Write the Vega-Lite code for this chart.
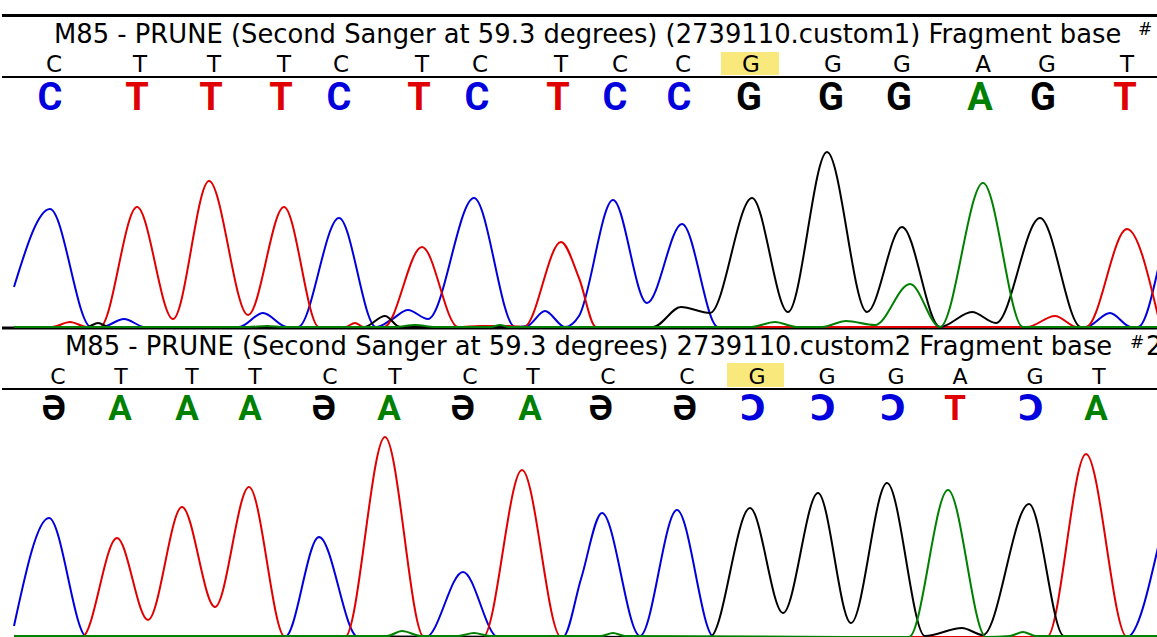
{
  "$schema": "https://vega.github.io/schema/vega-lite/v6.json",
  "padding": 0,
  "spacing": 0,
  "bounds": "flush",
  "background": "white",
  "config": {"view": {"stroke": null}},
  "datasets": {
    "topRef": [{"x":52,"b":"C"},{"x":138,"b":"T"},{"x":212,"b":"T"},{"x":282,"b":"T"},{"x":339,"b":"C"},{"x":420,"b":"T"},{"x":478,"b":"C"},{"x":559,"b":"T"},{"x":618,"b":"C"},{"x":681,"b":"C"},{"x":749,"b":"G"},{"x":831,"b":"G"},{"x":900,"b":"G"},{"x":981,"b":"A"},{"x":1045,"b":"G"},{"x":1125,"b":"T"}],
    "topCall": [{"x":48,"b":"C","d":"C"},{"x":135,"b":"T","d":"T"},{"x":209,"b":"T","d":"T"},{"x":279,"b":"T","d":"T"},{"x":337,"b":"C","d":"C"},{"x":417,"b":"T","d":"T"},{"x":475,"b":"C","d":"C"},{"x":556,"b":"T","d":"T"},{"x":613,"b":"C","d":"C"},{"x":677,"b":"C","d":"C"},{"x":747,"b":"G","d":"G"},{"x":829,"b":"G","d":"G"},{"x":897,"b":"G","d":"G"},{"x":978,"b":"A","d":"A"},{"x":1041,"b":"G","d":"G"},{"x":1123,"b":"T","d":"T"}],
    "botRef": [{"x":56,"b":"C"},{"x":119,"b":"T"},{"x":190,"b":"T"},{"x":253,"b":"T"},{"x":328,"b":"C"},{"x":393,"b":"T"},{"x":468,"b":"C"},{"x":531,"b":"T"},{"x":606,"b":"C"},{"x":685,"b":"C"},{"x":755,"b":"G"},{"x":825,"b":"G"},{"x":894,"b":"G"},{"x":958,"b":"A"},{"x":1033,"b":"G"},{"x":1097,"b":"T"}],
    "botCall": [{"x":52,"b":"Ә","d":"G"},{"x":118,"b":"A","d":"A"},{"x":185,"b":"A","d":"A"},{"x":248,"b":"A","d":"A"},{"x":322,"b":"Ә","d":"G"},{"x":387,"b":"A","d":"A"},{"x":461,"b":"Ә","d":"G"},{"x":528,"b":"A","d":"A"},{"x":599,"b":"Ә","d":"G"},{"x":683,"b":"Ә","d":"G"},{"x":751,"b":"Ↄ","d":"C"},{"x":821,"b":"Ↄ","d":"C"},{"x":891,"b":"Ↄ","d":"C"},{"x":953,"b":"T","d":"T"},{"x":1029,"b":"Ↄ","d":"C"},{"x":1094,"b":"A","d":"A"}],
    "topTrace": [
      {"d":"C","x":12,"i":41},{"d":"C","x":48,"i":119},{"d":"C","x":89,"i":1},{"d":"C","x":100,"i":1},{"d":"C","x":122,"i":9},{"d":"C","x":143,"i":1},{"d":"C","x":237,"i":1},{"d":"C","x":261,"i":15},{"d":"C","x":285,"i":1},{"d":"C","x":296,"i":1},{"d":"C","x":337,"i":110},{"d":"C","x":374,"i":1},{"d":"C","x":389,"i":8},{"d":"C","x":406,"i":18},{"d":"C","x":426,"i":9},{"d":"C","x":472,"i":130},{"d":"C","x":513,"i":1},{"d":"C","x":525,"i":2},{"d":"C","x":543,"i":17},{"d":"C","x":563,"i":1},{"d":"C","x":577,"i":12},{"d":"C","x":611,"i":128},{"d":"C","x":645,"i":25},{"d":"C","x":680,"i":104},{"d":"C","x":716,"i":1},{"d":"C","x":1084,"i":1},{"d":"C","x":1108,"i":15},{"d":"C","x":1129,"i":1},{"d":"C","x":1136,"i":1},{"d":"C","x":1157,"i":63},
      {"d":"T","x":12,"i":1},{"d":"T","x":50,"i":1},{"d":"T","x":68,"i":6},{"d":"T","x":85,"i":1},{"d":"T","x":98,"i":1},{"d":"T","x":135,"i":121},{"d":"T","x":171,"i":9},{"d":"T","x":207,"i":147},{"d":"T","x":246,"i":13},{"d":"T","x":282,"i":121},{"d":"T","x":317,"i":1},{"d":"T","x":343,"i":1},{"d":"T","x":353,"i":5},{"d":"T","x":362,"i":1},{"d":"T","x":382,"i":1},{"d":"T","x":420,"i":81},{"d":"T","x":456,"i":1},{"d":"T","x":478,"i":2},{"d":"T","x":507,"i":2},{"d":"T","x":522,"i":1},{"d":"T","x":559,"i":86},{"d":"T","x":577,"i":50},{"d":"T","x":594,"i":1},{"d":"T","x":1025,"i":1},{"d":"T","x":1053,"i":12},{"d":"T","x":1075,"i":1},{"d":"T","x":1084,"i":1},{"d":"T","x":1125,"i":99},{"d":"T","x":1157,"i":8},
      {"d":"G","x":12,"i":1},{"d":"G","x":85,"i":1},{"d":"G","x":96,"i":5},{"d":"G","x":107,"i":1},{"d":"G","x":362,"i":1},{"d":"G","x":383,"i":12},{"d":"G","x":398,"i":1},{"d":"G","x":651,"i":1},{"d":"G","x":679,"i":21},{"d":"G","x":708,"i":15},{"d":"G","x":750,"i":130},{"d":"G","x":786,"i":16},{"d":"G","x":825,"i":176},{"d":"G","x":865,"i":16},{"d":"G","x":900,"i":101},{"d":"G","x":938,"i":1},{"d":"G","x":970,"i":16},{"d":"G","x":994,"i":5},{"d":"G","x":1038,"i":110},{"d":"G","x":1079,"i":1},{"d":"G","x":1157,"i":1},
      {"d":"A","x":12,"i":1},{"d":"A","x":246,"i":1},{"d":"A","x":265,"i":2},{"d":"A","x":283,"i":1},{"d":"A","x":393,"i":1},{"d":"A","x":413,"i":3},{"d":"A","x":433,"i":1},{"d":"A","x":489,"i":1},{"d":"A","x":498,"i":3},{"d":"A","x":507,"i":1},{"d":"A","x":749,"i":1},{"d":"A","x":773,"i":6},{"d":"A","x":795,"i":1},{"d":"A","x":820,"i":1},{"d":"A","x":844,"i":7},{"d":"A","x":873,"i":3},{"d":"A","x":908,"i":44},{"d":"A","x":938,"i":1},{"d":"A","x":981,"i":145},{"d":"A","x":1021,"i":1},{"d":"A","x":1157,"i":1}
    ],
    "botTrace": [
      {"d":"C","x":12,"i":11},{"d":"C","x":47,"i":119},{"d":"C","x":85,"i":0},{"d":"C","x":283,"i":0},{"d":"C","x":317,"i":100},{"d":"C","x":356,"i":0},{"d":"C","x":424,"i":0},{"d":"C","x":461,"i":65},{"d":"C","x":496,"i":0},{"d":"C","x":561,"i":0},{"d":"C","x":579,"i":58},{"d":"C","x":600,"i":124},{"d":"C","x":638,"i":1},{"d":"C","x":675,"i":127},{"d":"C","x":712,"i":0},{"d":"C","x":1125,"i":0},{"d":"C","x":1157,"i":94},
      {"d":"T","x":12,"i":0},{"d":"T","x":80,"i":0},{"d":"T","x":115,"i":99},{"d":"T","x":146,"i":17},{"d":"T","x":180,"i":130},{"d":"T","x":213,"i":30},{"d":"T","x":247,"i":150},{"d":"T","x":283,"i":0},{"d":"T","x":343,"i":0},{"d":"T","x":383,"i":200},{"d":"T","x":422,"i":0},{"d":"T","x":481,"i":0},{"d":"T","x":520,"i":167},{"d":"T","x":559,"i":0},{"d":"T","x":1045,"i":0},{"d":"T","x":1084,"i":183},{"d":"T","x":1125,"i":0},{"d":"T","x":1157,"i":0},
      {"d":"G","x":12,"i":1},{"d":"G","x":708,"i":0},{"d":"G","x":748,"i":129},{"d":"G","x":781,"i":24},{"d":"G","x":816,"i":144},{"d":"G","x":849,"i":14},{"d":"G","x":885,"i":154},{"d":"G","x":923,"i":1},{"d":"G","x":960,"i":9},{"d":"G","x":981,"i":2},{"d":"G","x":1027,"i":133},{"d":"G","x":1062,"i":1},{"d":"G","x":1157,"i":1},
      {"d":"A","x":12,"i":1},{"d":"A","x":385,"i":1},{"d":"A","x":400,"i":6},{"d":"A","x":419,"i":1},{"d":"A","x":456,"i":1},{"d":"A","x":472,"i":4},{"d":"A","x":488,"i":1},{"d":"A","x":599,"i":1},{"d":"A","x":611,"i":4},{"d":"A","x":623,"i":1},{"d":"A","x":907,"i":0},{"d":"A","x":946,"i":147},{"d":"A","x":984,"i":0},{"d":"A","x":1008,"i":1},{"d":"A","x":1021,"i":5},{"d":"A","x":1034,"i":1},{"d":"A","x":1157,"i":1}
    ]
  },
  "vconcat": [
    {
      "width": 1157,
      "height": 328,
      "layer": [
        {"data": {"values": [{"x": 719, "x2": 777}]}, "mark": {"type": "rect", "color": "#f9e97c"},
         "encoding": {"x": {"field": "x", "type": "quantitative", "scale": {"domain": [0, 1157], "nice": false, "zero": false}, "axis": null}, "x2": {"field": "x2"},
                      "y": {"datum": 276, "type": "quantitative", "scale": {"domain": [0, 328], "nice": false, "zero": false}, "axis": null}, "y2": {"datum": 253}}},
        {"data": {"values": [{}]}, "mark": {"type": "rule", "strokeWidth": 3, "color": "black"}, "encoding": {"y": {"datum": 312.5, "type": "quantitative"}}},
        {"data": {"values": [{}]}, "mark": {"type": "rule", "strokeWidth": 2, "color": "black"}, "encoding": {"y": {"datum": 251, "type": "quantitative"}}},
        {"data": {"values": [{}]}, "mark": {"type": "rule", "strokeWidth": 3, "color": "black"}, "encoding": {"y": {"datum": 0, "type": "quantitative"}}},
        {"data": {"values": [{"x": 52, "t": "M85 - PRUNE (Second Sanger at 59.3 degrees) (2739110.custom1) Fragment base"}]},
         "mark": {"type": "text", "align": "left", "baseline": "alphabetic", "font": "DejaVu Sans", "fontSize": 25.8, "color": "black"},
         "encoding": {"x": {"field": "x", "type": "quantitative"}, "y": {"datum": 285, "type": "quantitative"}, "text": {"field": "t"}}},
        {"data": {"values": [{"x": 1143, "t": "#"}]},
         "mark": {"type": "text", "align": "center", "baseline": "alphabetic", "font": "DejaVu Sans", "fontSize": 17, "color": "black"},
         "encoding": {"x": {"field": "x", "type": "quantitative"}, "y": {"datum": 293, "type": "quantitative"}, "text": {"field": "t"}}},
        {"data": {"name": "topRef"},
         "mark": {"type": "text", "align": "center", "baseline": "alphabetic", "font": "DejaVu Sans", "fontSize": 23, "color": "black"},
         "encoding": {"x": {"field": "x", "type": "quantitative"}, "y": {"datum": 256, "type": "quantitative"}, "text": {"field": "b"}}},
        {"data": {"name": "topCall"},
         "mark": {"type": "text", "align": "center", "baseline": "alphabetic", "font": "Roboto, DejaVu Sans", "fontWeight": "bold", "fontSize": 38},
         "encoding": {"x": {"field": "x", "type": "quantitative"}, "y": {"datum": 218, "type": "quantitative"}, "text": {"field": "b"},
                      "color": {"field": "d", "type": "nominal", "scale": {"domain": ["A", "C", "G", "T"], "range": ["#008000", "#0000dd", "#000000", "#e00000"]}, "legend": null}}},
        {"data": {"name": "topTrace"},
         "mark": {"type": "line", "interpolate": "monotone", "strokeWidth": 2},
         "encoding": {"x": {"field": "x", "type": "quantitative"}, "y": {"field": "i", "type": "quantitative"},
                      "color": {"field": "d", "type": "nominal", "scale": {"domain": ["A", "C", "G", "T"], "range": ["#008000", "#0000dd", "#000000", "#e00000"]}, "legend": null}}}
      ]
    },
    {
      "width": 1157,
      "height": 309,
      "layer": [
        {"data": {"values": [{"x": 725, "x2": 782}]}, "mark": {"type": "rect", "color": "#f9e97c"},
         "encoding": {"x": {"field": "x", "type": "quantitative", "scale": {"domain": [0, 1157], "nice": false, "zero": false}, "axis": null}, "x2": {"field": "x2"},
                      "y": {"datum": 274, "type": "quantitative", "scale": {"domain": [0, 309], "nice": false, "zero": false}, "axis": null}, "y2": {"datum": 250}}},
        {"data": {"values": [{}]}, "mark": {"type": "rule", "strokeWidth": 2, "color": "black"}, "encoding": {"y": {"datum": 248, "type": "quantitative"}}},
        {"data": {"values": [{"x": 63, "t": "M85 - PRUNE (Second Sanger at 59.3 degrees) 2739110.custom2 Fragment base"}]},
         "mark": {"type": "text", "align": "left", "baseline": "alphabetic", "font": "DejaVu Sans", "fontSize": 25.8, "color": "black"},
         "encoding": {"x": {"field": "x", "type": "quantitative"}, "y": {"datum": 282, "type": "quantitative"}, "text": {"field": "t"}}},
        {"data": {"values": [{"x": 1135, "t": "#"}]},
         "mark": {"type": "text", "align": "center", "baseline": "alphabetic", "font": "DejaVu Sans", "fontSize": 17, "color": "black"},
         "encoding": {"x": {"field": "x", "type": "quantitative"}, "y": {"datum": 289, "type": "quantitative"}, "text": {"field": "t"}}},
        {"data": {"values": [{"x": 1144, "t": "2"}]},
         "mark": {"type": "text", "align": "left", "baseline": "alphabetic", "font": "DejaVu Sans", "fontSize": 25.8, "color": "black"},
         "encoding": {"x": {"field": "x", "type": "quantitative"}, "y": {"datum": 282, "type": "quantitative"}, "text": {"field": "t"}}},
        {"data": {"name": "botRef"},
         "mark": {"type": "text", "align": "center", "baseline": "alphabetic", "font": "DejaVu Sans", "fontSize": 22, "color": "black"},
         "encoding": {"x": {"field": "x", "type": "quantitative"}, "y": {"datum": 253, "type": "quantitative"}, "text": {"field": "b"}}},
        {"data": {"name": "botCall"},
         "mark": {"type": "text", "align": "center", "baseline": "alphabetic", "font": "Roboto, DejaVu Sans", "fontWeight": "bold", "fontSize": 35},
         "encoding": {"x": {"field": "x", "type": "quantitative"}, "y": {"datum": 217, "type": "quantitative"}, "text": {"field": "b"},
                      "color": {"field": "d", "type": "nominal", "scale": {"domain": ["A", "C", "G", "T"], "range": ["#008000", "#0000dd", "#000000", "#e00000"]}, "legend": null}}},
        {"data": {"name": "botTrace"},
         "mark": {"type": "line", "interpolate": "monotone", "strokeWidth": 2},
         "encoding": {"x": {"field": "x", "type": "quantitative"}, "y": {"field": "i", "type": "quantitative"},
                      "color": {"field": "d", "type": "nominal", "scale": {"domain": ["A", "C", "G", "T"], "range": ["#008000", "#0000dd", "#000000", "#e00000"]}, "legend": null}}}
      ]
    }
  ]
}
